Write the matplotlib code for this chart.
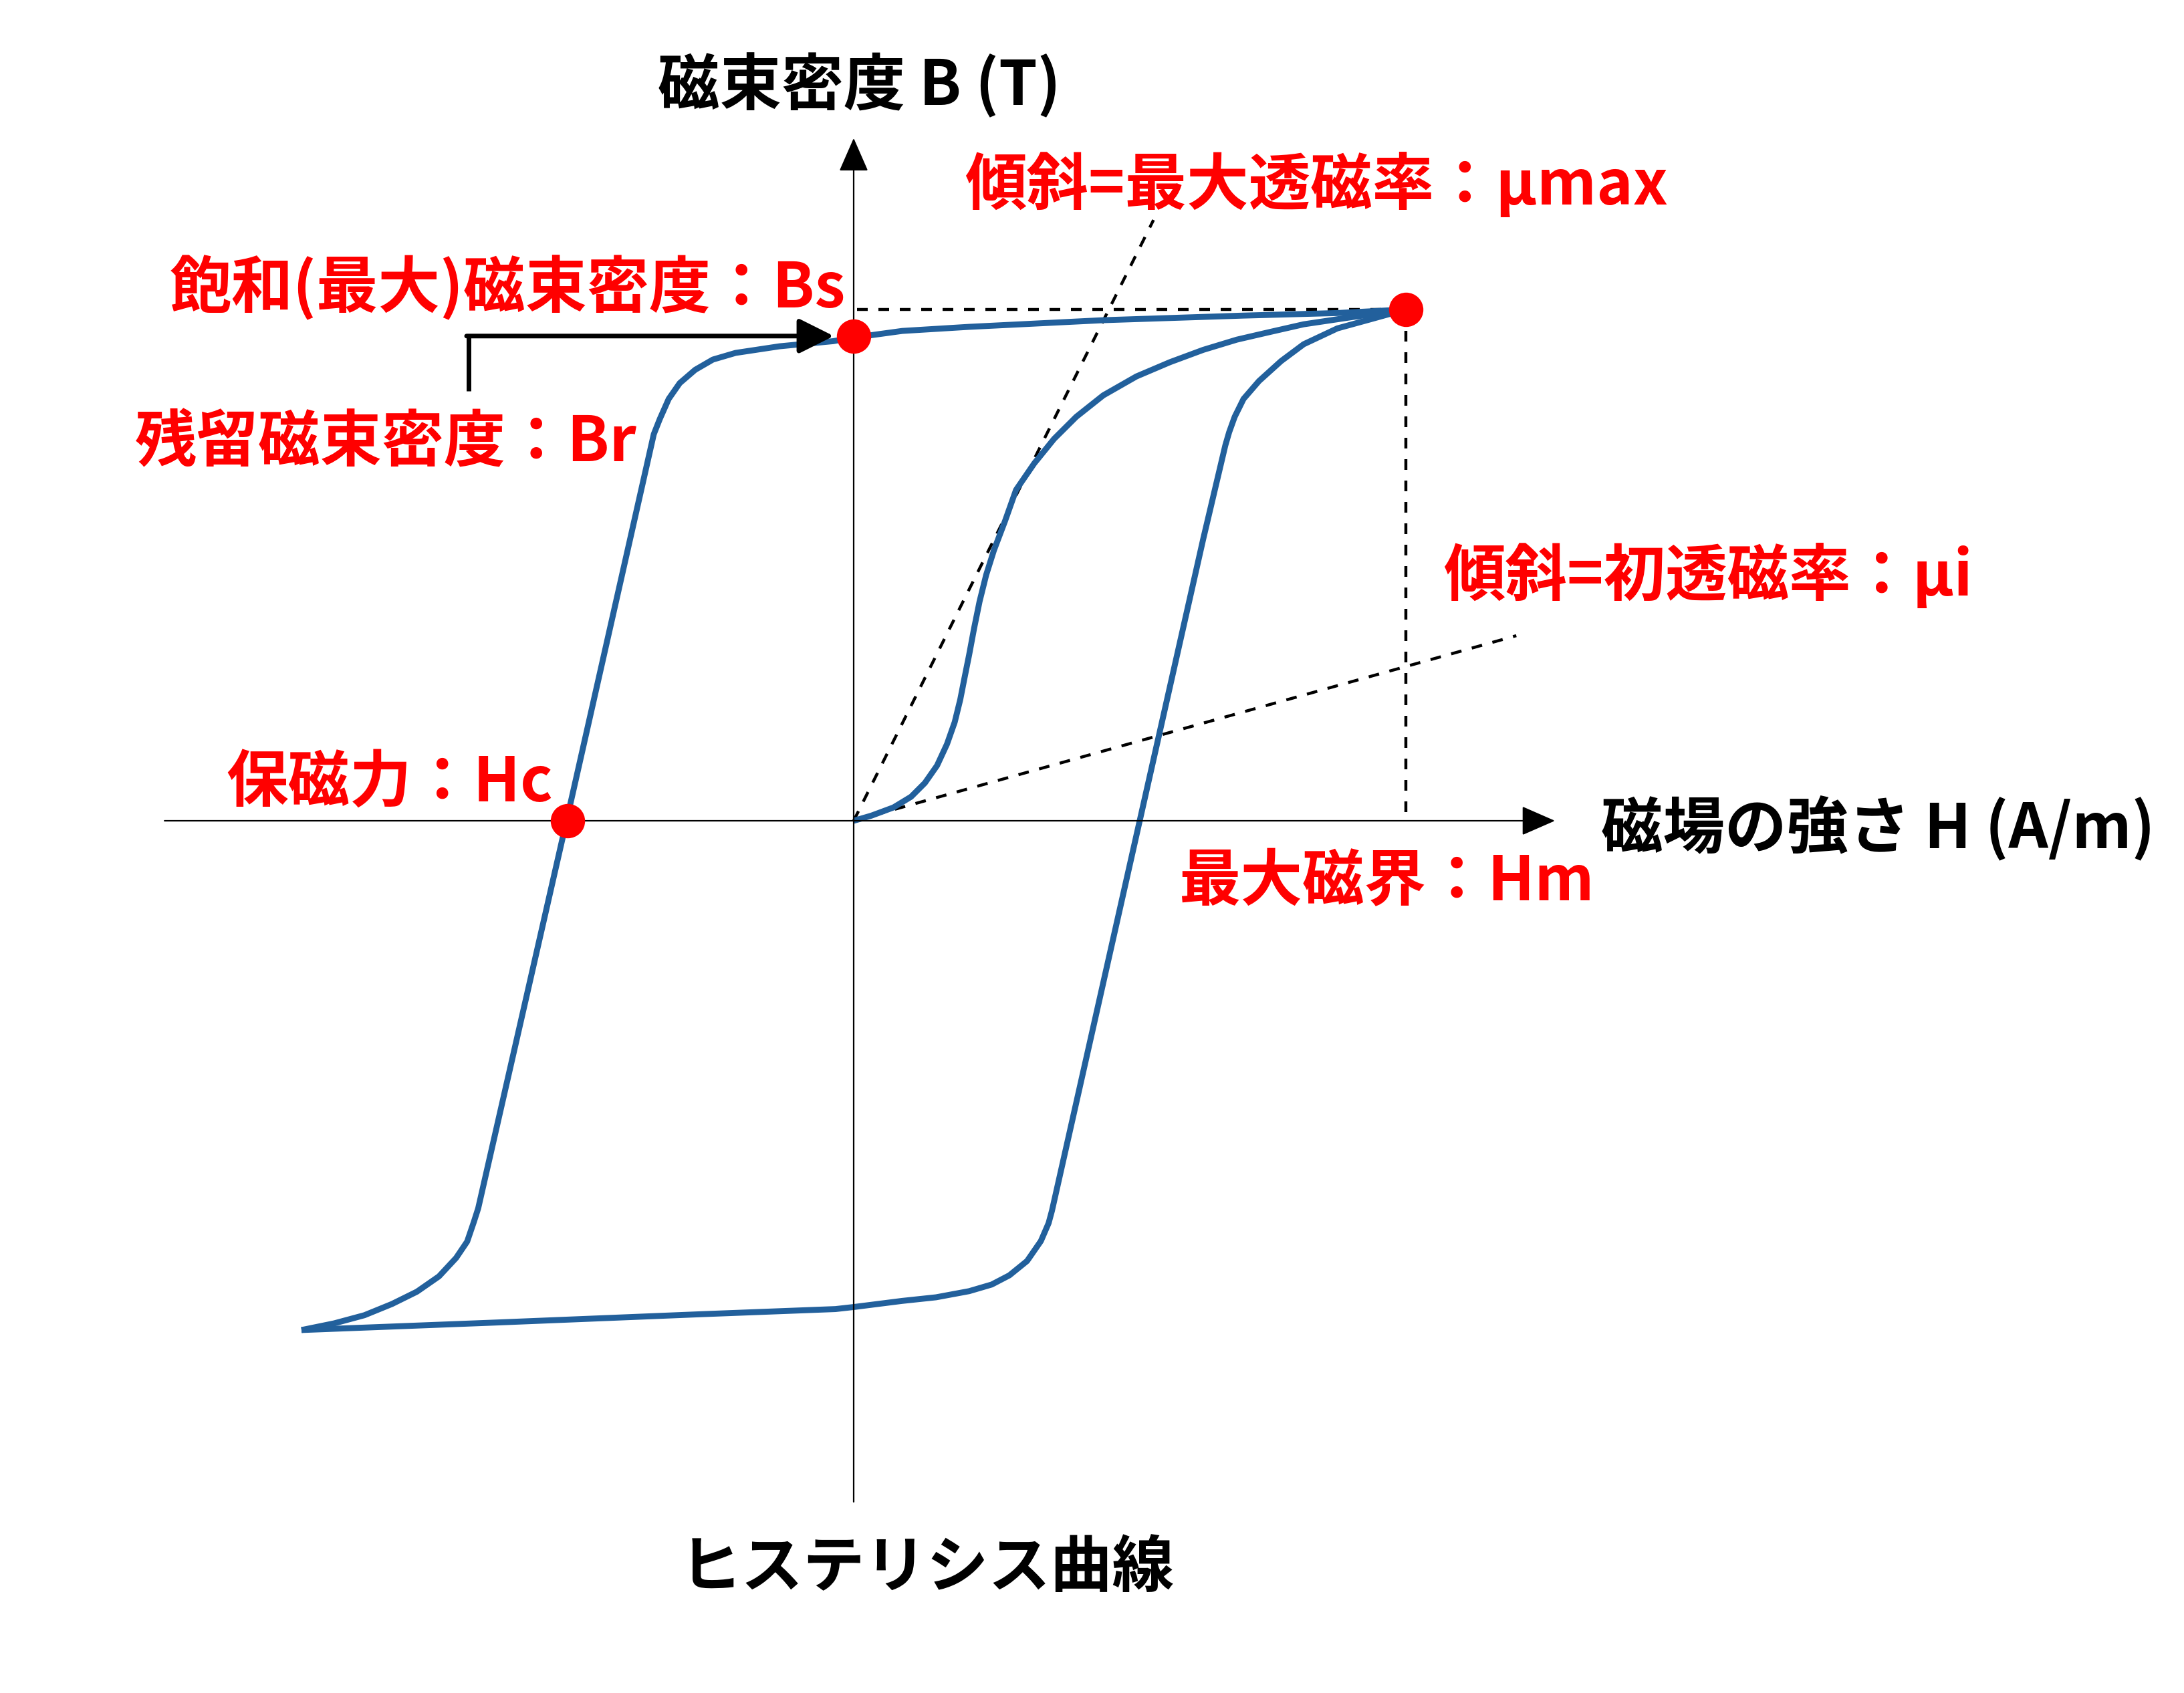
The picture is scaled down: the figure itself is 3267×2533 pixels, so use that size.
import numpy as np
import matplotlib
matplotlib.use("Agg")
import matplotlib.pyplot as plt

plt.rcParams['font.family'] = ['Noto Sans CJK JP', 'DejaVu Sans']

# ---- data (H normalised to Hm = 1, B normalised to Bs = 1) ----
# descending branch: from +Hm down to -Hm
desc_H = [1.0, 0.876, 0.706, 0.452, 0.209, 0.088, 0.0, -0.037, -0.134, -0.214, -0.255,
          -0.287, -0.315, -0.335, -0.351, -0.362, -0.520, -0.680, -0.688, -0.700,
          -0.720, -0.751, -0.791, -0.836, -0.886, -0.941, -1.0]
desc_B = [1.0, 0.993, 0.988, 0.979, 0.966, 0.958, 0.945, 0.938, 0.928, 0.915, 0.902,
          0.882, 0.856, 0.825, 0.786, 0.756, 0.0, -0.758, -0.785, -0.823,
          -0.855, -0.891, -0.921, -0.945, -0.967, -0.983, -0.996]

# ascending branch: from -Hm up to +Hm
asc_H = [-1.0, -0.64, -0.275, -0.033, 0.0, 0.088, 0.149, 0.209, 0.250, 0.282, 0.314,
         0.339, 0.353, 0.359, 0.518, 0.633, 0.673, 0.680, 0.690, 0.706, 0.734, 0.774,
         0.815, 0.876, 0.940, 1.0]
asc_B = [-0.996, -0.981, -0.965, -0.955, -0.951, -0.939, -0.932, -0.920, -0.907, -0.889,
         -0.861, -0.822, -0.787, -0.763, 0.0, 0.551, 0.734, 0.760, 0.790, 0.825, 0.860,
         0.899, 0.932, 0.963, 0.982, 1.0]

# initial magnetisation curve
init_H = [0.0, 0.032, 0.072, 0.104, 0.129, 0.151, 0.169, 0.183, 0.193, 0.201, 0.209,
          0.218, 0.228, 0.240, 0.254, 0.274, 0.294, 0.327, 0.363, 0.403, 0.452, 0.512,
          0.573, 0.633, 0.694, 0.754, 0.815, 0.902, 1.0]
init_B = [0.0, 0.010, 0.026, 0.047, 0.074, 0.108, 0.150, 0.193, 0.237, 0.281, 0.324,
          0.376, 0.429, 0.481, 0.529, 0.586, 0.647, 0.699, 0.747, 0.790, 0.832, 0.869,
          0.897, 0.921, 0.941, 0.956, 0.971, 0.985, 1.0]

# key points
Hm, Bs = 1.0, 1.0
Br = 0.948
Hc = -0.518

# slope lines (end points)
mu_max_end = (0.543, 1.175)
mu_i_end = (1.2, 0.362)

# labels
y_label = "磁束密度 B (T)"
x_label = "磁場の強さ H (A/m)"
title = "ヒステリシス曲線"
red_labels = [
    ("傾斜=最大透磁率：μmax", 1443, 277),
    ("飽和(最大)磁束密度：Bs", 254, 432),
    ("残留磁束密度：Br", 202, 663),
    ("傾斜=初透磁率：μi", 2159, 862),
    ("保磁力：Hc", 338, 1172),
    ("最大磁界：Hm", 1763, 1320),
]

W, H = 3267, 2533
DPI = 200
BLUE = '#22609c'
RED = '#ff0000'

fig = plt.figure(figsize=(W / DPI, H / DPI), dpi=DPI)
ax = fig.add_axes([0, 0, 1, 1])
# pixel frame: origin at (1277, 1228), Hm -> 826 px, Bs -> 765 px
ox, oy, sx, sy = 1277, 1228, 826, 765
ax.set_xlim(-ox / sx, (W - ox) / sx)
ax.set_ylim(-(H - oy) / sy, oy / sy)
ax.set_axis_off()


def fx(px):
    return px / W


def fy(py):
    return 1 - py / H


# axes with arrows
axis_props = dict(arrowstyle='-|>,head_length=16,head_width=7', mutation_scale=1,
                  lw=0.8, color='black', shrinkA=0, shrinkB=0)
ax.annotate('', xy=(1.27, 0), xytext=(-1.248, 0), arrowprops=axis_props)
ax.annotate('', xy=(0, 1.335), xytext=(0, -1.332), arrowprops=axis_props)

# dashed guides
dash = dict(color='black', lw=1.6, linestyle=(0, (3.6, 3.6)))
ax.plot([0, mu_max_end[0]], [0, mu_max_end[1]], **dash)
ax.plot([0, mu_i_end[0]], [0, mu_i_end[1]], **dash)
ax.plot([0.006, Hm], [Bs, Bs], **dash)
ax.plot([Hm, Hm], [Bs, 0.01], **dash)

# curves
curve = dict(color=BLUE, lw=3.2, solid_joinstyle='round', solid_capstyle='butt')
ax.plot(desc_H, desc_B, **curve)
ax.plot(asc_H, asc_B, **curve)
ax.plot(init_H, init_B, **curve)

# Br pointer
ax.plot([-0.697, -0.697], [0.841, Br], color='black', lw=2.5, solid_capstyle='butt')
ax.annotate('', xy=(-0.036, Br), xytext=(-0.697 - 0.004, Br),
            arrowprops=dict(arrowstyle='-|>,head_length=16,head_width=8',
                            mutation_scale=1, lw=2.5, color='black',
                            shrinkA=0, shrinkB=0))

# red points
ax.plot([Hm, 0, Hc], [Bs, Br, 0], 'o', color=RED, markersize=17.5, zorder=5)

# text
fs = 33.3
fig.text(fx(1285), fy(129), y_label, ha='center', va='center', fontsize=fs,
         fontweight='bold', color='black')
fig.text(fx(2395), fy(1241), x_label, ha='left', va='center', fontsize=fs,
         fontweight='bold', color='black')
fig.text(fx(1387), fy(2347), title, ha='center', va='center', fontsize=fs,
         fontweight='bold', color='black')
for txt, px, py in red_labels:
    fig.text(fx(px), fy(py), txt, ha='left', va='center', fontsize=fs,
             fontweight='bold', color=RED)

fig.savefig('out.png', dpi=DPI)
